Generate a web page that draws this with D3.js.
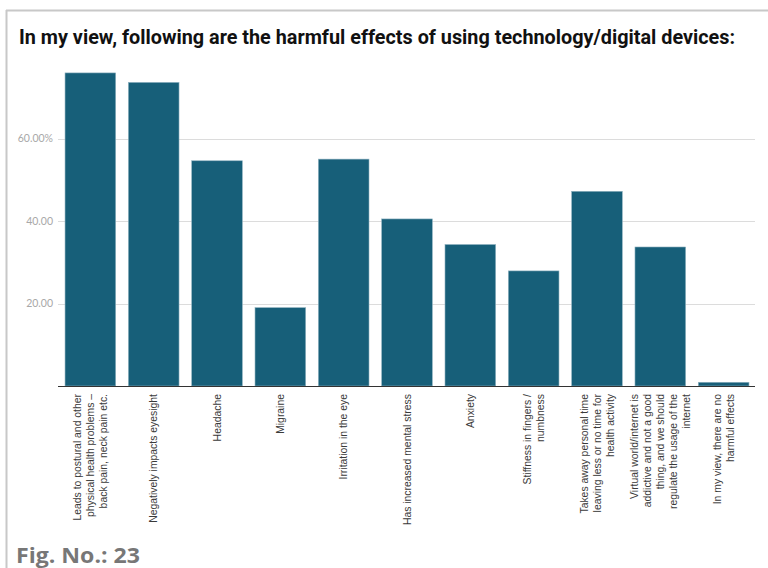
<!DOCTYPE html>
<html><head><meta charset="utf-8">
<script src="https://cdn.jsdelivr.net/npm/d3@7"></script>
<style>body{margin:0;background:#fff}svg{display:block}</style>
</head><body>
<svg id="c" width="768" height="568"></svg>
<script>
const title = "In my view, following are the harmful effects of using technology/digital devices:";
const categories = [
  "Leads to postural and other\nphysical health problems –\nback pain, neck pain etc.",
  "Negatively impacts eyesight",
  "Headache",
  "Migraine",
  "Irritation in the eye",
  "Has increased mental stress",
  "Anxiety",
  "Stiffness in fingers /\nnumbness",
  "Takes away personal time\nleaving less or no time for\nhealth activity",
  "Virtual world/internet is\naddictive and not a good\nthing, and we should\nregulate the usage of the\ninternet",
  "In my view, there are no\nharmful effects"
];
const values = [75.9, 73.6, 54.6, 19.0, 55.0, 40.5, 34.3, 27.9, 47.2, 33.7, 0.9];
const yTicks = [20, 40, 60];
const yTickLabels = ["20.00", "40.00", "60.00%"];
const figLabel = "Fig. No.: 23";

const svg = d3.select("#c");
// frame
svg.append("line").attr("x1",6.5).attr("x2",6.5).attr("y1",10).attr("y2",568).attr("stroke","#c8c8c8").attr("stroke-width",2);
svg.append("line").attr("x1",6).attr("x2",768).attr("y1",10.5).attr("y2",10.5).attr("stroke","#c8c8c8").attr("stroke-width",2);

svg.append("text").attr("x",19).attr("y",44).text(title)
  .attr("font-family","Roboto").attr("font-weight","bold").attr("font-size",19.5)
  .attr("textLength",716).attr("lengthAdjust","spacingAndGlyphs").attr("fill","#111");

const x = d3.scaleBand().domain(categories).range([58.7, 755.3]).paddingInner(0.2).paddingOuter(0.1);
const y = d3.scaleLinear().domain([0, 20]).range([386, 303.5]);

// gridlines
svg.append("g").selectAll("line").data(yTicks).join("line")
  .attr("x1",58).attr("x2",755).attr("y1",d=>Math.round(y(d))+0.5).attr("y2",d=>Math.round(y(d))+0.5)
  .attr("stroke","#dcdcdc").attr("stroke-width",1);
svg.append("g").selectAll("text").data(yTicks).join("text")
  .attr("x",53).attr("y",d=>y(d)).attr("dy","0.35em").attr("text-anchor","end")
  .attr("font-family","Lato").attr("font-size",10.5).attr("fill","#a8a8a8")
  .text((d,i)=>yTickLabels[i]);

// bars
svg.append("g").selectAll("rect").data(values).join("rect")
  .attr("x",(d,i)=>x(categories[i])).attr("width",x.bandwidth())
  .attr("y",d=>y(d)).attr("height",d=>y(0)-y(d))
  .attr("fill","#175f79").attr("stroke","#8fb2c0").attr("stroke-width",0.6);

// baseline
svg.append("line").attr("x1",58).attr("x2",755).attr("y1",386.5).attr("y2",386.5).attr("stroke","#333").attr("stroke-width",1);

// x labels
const lh = 13;
categories.forEach((c,i)=>{
  const lines = c.split("\n");
  const cx = x(c) + x.bandwidth()/2;
  const n = lines.length;
  const g = svg.append("g").attr("transform",`translate(${cx},394) rotate(-90)`);
  lines.forEach((ln,j)=>{
    g.append("text").attr("x",0).attr("y",(j-(n-1)/2)*lh).attr("dy","0.35em")
      .attr("text-anchor","end").attr("font-family","Liberation Sans").attr("font-size",10.4)
      .attr("fill","#3a3a3a").text(ln);
  });
});

svg.append("text").attr("x",16).attr("y",563).text(figLabel)
  .attr("font-family","Open Sans").attr("font-weight","bold").attr("font-size",21)
  .attr("textLength",124).attr("lengthAdjust","spacingAndGlyphs").attr("fill","#777");
</script>
</body></html>
